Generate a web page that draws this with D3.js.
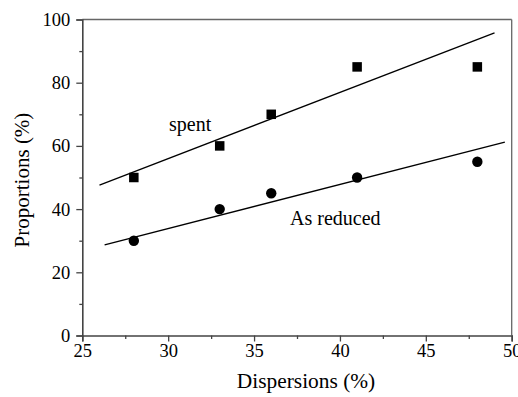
<!DOCTYPE html>
<html>
<head>
<meta charset="utf-8">
<script src="https://cdn.jsdelivr.net/npm/d3@7"></script>
<style>
  html, body { margin: 0; padding: 0; background: #fff; }
</style>
</head>
<body>
<svg id="chart" width="518" height="397"></svg>
<script>
// Data
const dispersions = [28, 33, 36, 41, 48];
const spentValues = [50, 60, 70, 85, 85];
const reducedValues = [30, 40, 45, 50, 55];
// Fitted trend lines (endpoints)
const spentFitX = [26.0, 49.0];
const spentFitY = [47.6, 95.8];
const reducedFitX = [26.3, 49.6];
const reducedFitY = [28.7, 61.2];
const xTicks = [25, 30, 35, 40, 45, 50];
const yTicks = [0, 20, 40, 60, 80, 100];

const FONT = '"Liberation Serif", "Times New Roman", serif';
const svg = d3.select("#chart");
const W = 518, H = 397;
const margin = { left: 82.3, right: W - 511.7, top: 19.5, bottom: H - 335.5 };
const x = d3.scaleLinear().domain([25, 50]).range([margin.left, W - margin.right]);
const y = d3.scaleLinear().domain([0, 100]).range([H - margin.bottom, margin.top]);

const axisColor = "#444";

// frame top & right
svg.append("line").attr("x1", x(25)).attr("x2", x(50)).attr("y1", y(100)).attr("y2", y(100))
  .attr("stroke", "#666").attr("stroke-width", 1.3);
svg.append("line").attr("x1", x(50)).attr("x2", x(50)).attr("y1", y(100)).attr("y2", y(0))
  .attr("stroke", "#666").attr("stroke-width", 1.3);

// minor ticks
const xMinor = d3.range(27.5, 50, 5);
const yMinor = d3.range(10, 100, 20);

const gx = svg.append("g").attr("transform", `translate(0,${y(0)})`)
  .call(d3.axisBottom(x).tickValues(xTicks).tickSize(6).tickPadding(2).tickFormat(d3.format("d")));
svg.append("g").attr("transform", `translate(0,${y(0)})`)
  .call(d3.axisBottom(x).tickValues(xMinor).tickSize(3.5).tickFormat(""))
  .select(".domain").remove();

const gy = svg.append("g").attr("transform", `translate(${x(25)},0)`)
  .call(d3.axisLeft(y).tickValues(yTicks).tickSize(6).tickPadding(6).tickFormat(d3.format("d")));
svg.append("g").attr("transform", `translate(${x(25)},0)`)
  .call(d3.axisLeft(y).tickValues(yMinor).tickSize(3).tickFormat(""))
  .select(".domain").remove();

svg.selectAll(".tick text").attr("font-size", 18.5).style("font-family", FONT).attr("fill", "#000");
svg.selectAll(".domain").attr("stroke", axisColor).attr("stroke-width", 1.6);
svg.selectAll(".tick line").attr("stroke", axisColor).attr("stroke-width", 1.3);

// fit lines
const line = d3.line().x(d => x(d[0])).y(d => y(d[1]));
svg.append("path").datum(spentFitX.map((v, i) => [v, spentFitY[i]]))
  .attr("d", line).attr("stroke", "#000").attr("stroke-width", 1.3).attr("fill", "none");
svg.append("path").datum(reducedFitX.map((v, i) => [v, reducedFitY[i]]))
  .attr("d", line).attr("stroke", "#000").attr("stroke-width", 1.3).attr("fill", "none");

// markers
const sq = 9.5;
svg.selectAll("rect.spent").data(dispersions).enter().append("rect")
  .attr("class", "spent")
  .attr("x", d => x(d) - sq / 2)
  .attr("y", (d, i) => y(spentValues[i]) - sq / 2)
  .attr("width", sq).attr("height", sq).attr("fill", "#000");
svg.selectAll("circle.reduced").data(dispersions).enter().append("circle")
  .attr("class", "reduced")
  .attr("cx", d => x(d))
  .attr("cy", (d, i) => y(reducedValues[i]))
  .attr("r", 5.2).attr("fill", "#000");

// annotations
svg.append("text").attr("x", 169).attr("y", 131).attr("font-size", 20)
  .style("font-family", FONT).text("spent");
svg.append("text").attr("x", 290).attr("y", 225).attr("font-size", 20)
  .style("font-family", FONT).text("As reduced");

// axis titles
svg.append("text").attr("x", 306).attr("y", 388)
  .attr("text-anchor", "middle").attr("font-size", 21.4)
  .style("font-family", FONT).text("Dispersions (%)");
svg.append("text").attr("transform", `translate(29,180) rotate(-90)`)
  .attr("text-anchor", "middle").attr("font-size", 21)
  .style("font-family", FONT).text("Proportions (%)");
</script>
</body>
</html>
